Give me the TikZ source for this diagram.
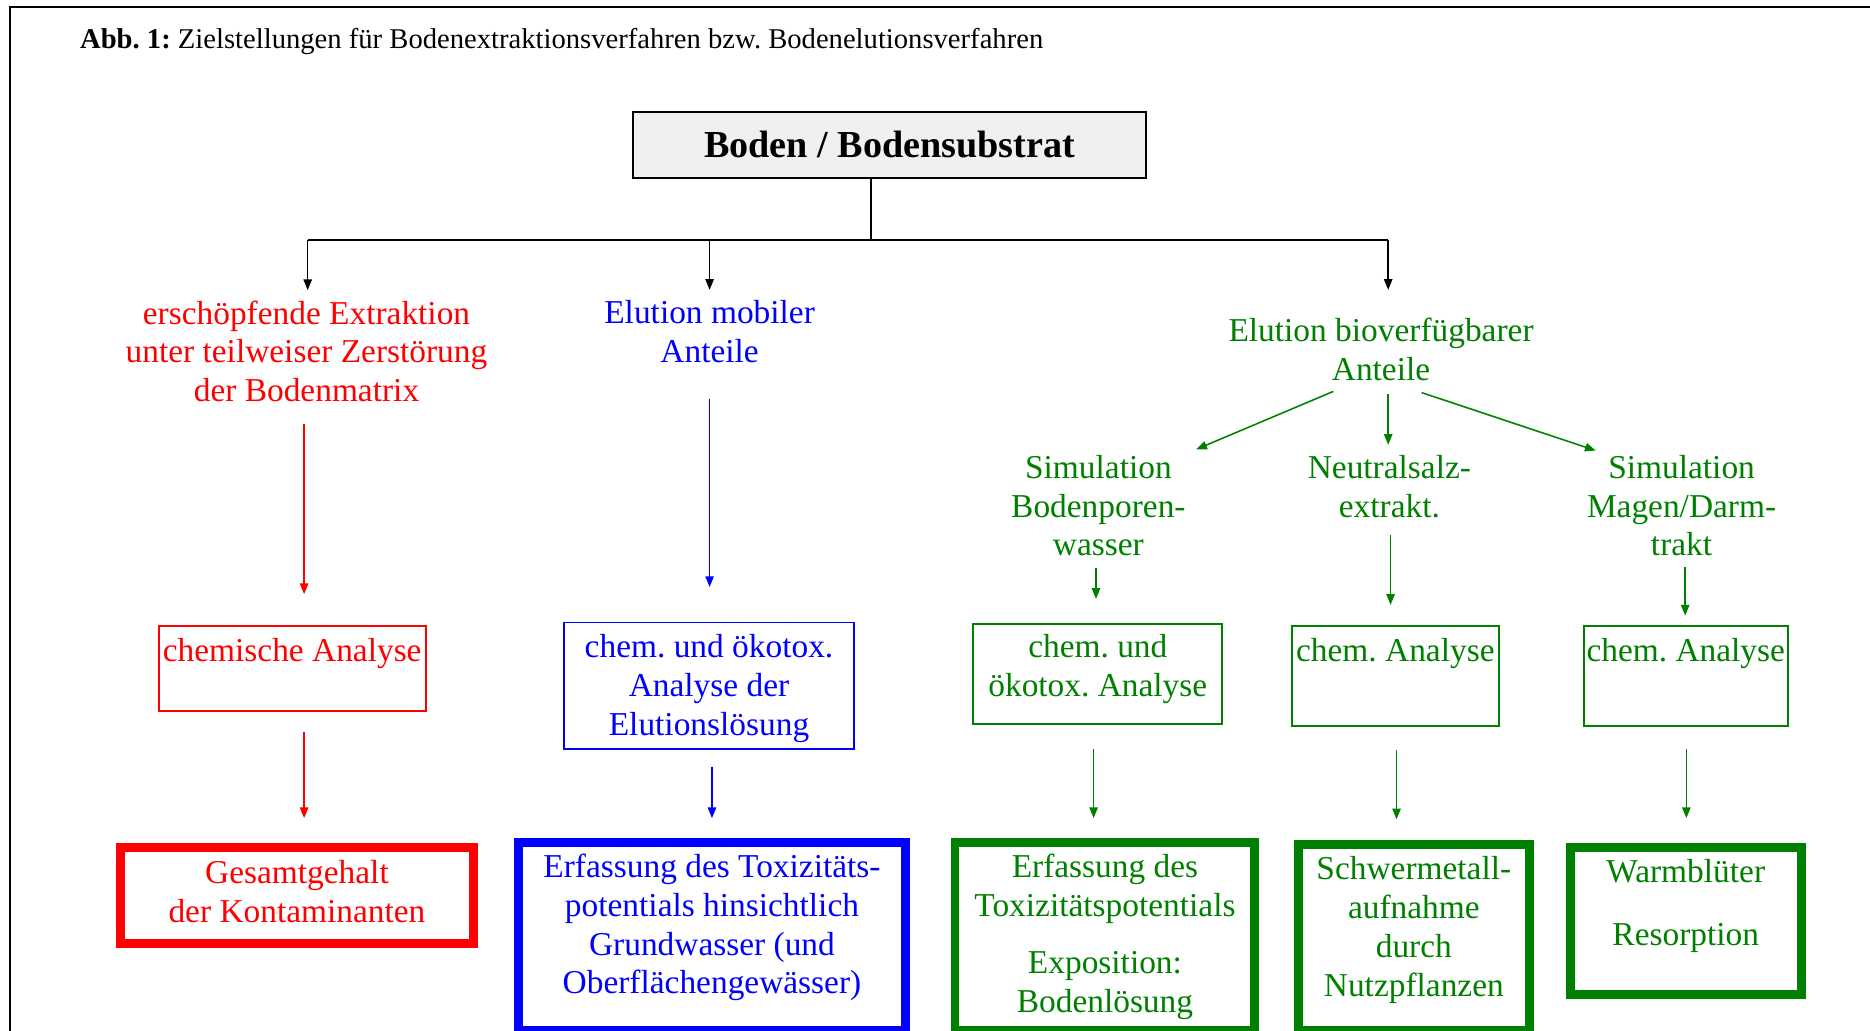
\documentclass[tikz,border=0pt]{standalone}
\usepackage{fontspec}
\setmainfont{Liberation Serif}
\usetikzlibrary{arrows.meta,calc}
\definecolor{cred}{HTML}{FF0000}
\definecolor{cblue}{HTML}{0000FF}
\definecolor{cgreen}{HTML}{008000}
\definecolor{cgray}{HTML}{F0F0F0}
\frenchspacing
\begin{document}
\frenchspacing
\begin{tikzpicture}[x=1pt,y=-1pt,
  txt/.style={font=\fontsize{28}{32.5}\selectfont\frenchspacing, align=center, inner sep=0pt},
  thinbox/.style={txt, draw, line width=1.6pt},
  thickbox/.style={txt, draw, line width=7.5pt},
  arr/.style={line width=1.3pt, -{Triangle[length=9pt,width=7pt]}},
  link/.style={line width=1.6pt}
]
\useasboundingbox (0,0) rectangle (1568,864);
% frame
\draw[line width=2pt] (8.5,870) -- (8.5,6) -- (1575,6);
% title
\node[anchor=base west, inner sep=0pt, font=\fontsize{24}{28}\selectfont\frenchspacing] (title) at (67,41)
  {\textbf{Abb. 1:} Zielstellungen für Bodenextraktionsverfahren bzw. Bodenelutionsverfahren};
% top box
\node[draw, line width=1.6pt, fill=cgray, minimum width=430pt, minimum height=55pt, inner sep=0pt,
  font=\fontsize{32}{36}\selectfont\bfseries] (top) at (746,121.5) {Boden / Bodensubstrat};
% branch coordinates
\coordinate (jn) at (730,201);
\coordinate (b1) at (258,201);
\coordinate (b2) at (595,201);
\coordinate (b3) at (1164,201);
% column x positions
\coordinate (xr) at (255,0);
\coordinate (xb1) at (595,0);
\coordinate (xb2) at (597,0);
\coordinate (xg1) at (919,0);
\coordinate (xg2) at (1166,0);
\coordinate (xg3) at (1413,0);
\coordinate (xh1) at (917,0);
\coordinate (xh2) at (1171,0);
\coordinate (xh3) at (1414,0);
% text nodes
\node[txt, text=cred, minimum height=102pt] (ext) at (257,294.5)
  {erschöpfende Extraktion\\unter teilweiser Zerstörung\\der Bodenmatrix};
\node[txt, text=cblue, minimum height=69.5pt] (mob) at (595,278) {Elution mobiler\\Anteile};
\node[txt, text=cgreen, minimum height=69.5pt] (bio) at (1158,293) {Elution bioverfügbarer\\Anteile};
\node[txt, text=cgreen, minimum height=102pt] (sim1) at (921,424) {Simulation\\Bodenporen-\\wasser};
\node[txt, text=cgreen, minimum height=69.5pt] (neu) at (1165,408) {Neutralsalz-\\extrakt.};
\node[txt, text=cgreen, minimum height=102pt] (sim2) at (1410,424) {Simulation\\Magen/Darm-\\trakt};
% analysis boxes
\node[thinbox, cred, minimum width=224pt, minimum height=71pt] (ca) at (245,560.5)
  {chemische Analyse\\[-1.5pt]\mbox{}};
\node[thinbox, cblue, minimum width=243pt, minimum height=106pt] (cb) at (594.5,575)
  {chem. und ökotox.\\Analyse der\\Elutionslösung\\[-31.5pt]\mbox{}};
\node[thinbox, cgreen, minimum width=209pt, minimum height=84pt] (gb1) at (920.5,565)
  {chem. und\\ökotox. Analyse\\[-19pt]\mbox{}};
\node[thinbox, cgreen, minimum width=174pt, minimum height=84pt] (gb2) at (1170,567)
  {chem. Analyse\\[11.5pt]\mbox{}};
\node[thinbox, cgreen, minimum width=171pt, minimum height=84pt] (gb3) at (1413.5,567)
  {chem. Analyse\\[11.5pt]\mbox{}};
% goal boxes
\node[thickbox, cred, minimum width=296.5pt, minimum height=80.5pt] (rg) at (249,751)
  {Gesamtgehalt\\der Kontaminanten\\[-25pt]\mbox{}};
\node[thickbox, cblue, minimum width=324.5pt, minimum height=157.25pt] (bb) at (597,785.4)
  {Erfassung des Toxizitäts-\\potentials hinsichtlich\\Grundwasser (und\\Oberflächengewässer)\\[-11.2pt]\mbox{}};
\node[thickbox, cgreen, minimum width=251.5pt, minimum height=157.25pt] (gg1) at (926.5,785.4)
  {Erfassung des\\Toxizitätspotentials\\[15.5pt]Exposition:\\Bodenlösung};
\node[thickbox, cgreen, minimum width=193.5pt, minimum height=156.25pt] (gg2) at (1185.5,785.9)
  {Schwermetall-\\aufnahme\\durch\\Nutzpflanzen\\[-14.2pt]\mbox{}};
\node[thickbox, cgreen, minimum width=193.5pt, minimum height=123.5pt] (gg3) at (1413.5,772.5)
  {Warmblüter\\[20.5pt]Resorption\\[-0.5pt]\mbox{}};
% black tree
\draw[link] (top.south -| jn) -- (jn);
\draw[link] (b1) -- (b3);
\draw[arr] (b1) -- (ext.north -| b1);
\draw[arr] (b2) -- (mob.north -| b2);
\draw[arr, shorten >=15pt] (b3) -- (bio.north -| b3);
% red column
\draw[arr, cred, shorten <=9.5pt, shorten >=26pt] (ext.south -| xr) -- (ca.north -| xr);
\draw[arr, cred, shorten <=17pt, shorten >=21pt] (ca.south -| xr) -- (rg.north -| xr);
% blue column
\draw[arr, cblue, shorten <=22pt, shorten >=29pt] (mob.south -| xb1) -- (cb.north -| xb1);
\draw[arr, cblue, shorten <=14pt, shorten >=17pt] (cb.south -| xb2) -- (bb.north -| xb2);
% green columns
\draw[arr, cgreen] ($(bio.south)+(-40,0.25)$) -- ($(sim1.north)+(82,4)$);
\draw[arr, cgreen, shorten <=2pt] (bio.south -| b3) -- (neu.north -| b3);
\draw[arr, cgreen] ($(bio.south)+(34,1.25)$) -- ($(sim2.north)+(-72,5)$);
\draw[arr, cgreen, shorten <=1pt, shorten >=20pt] (sim1.south -| xg1) -- (gb1.north -| xg1);
\draw[arr, cgreen, shorten <=6pt, shorten >=17pt] (neu.south -| xg2) -- (gb2.north -| xg2);
\draw[arr, cgreen, shorten >=8pt] (sim2.south -| xg3) -- (gb3.north -| xg3);
\draw[arr, cgreen, shorten <=20pt, shorten >=17pt] (gb1.south -| xh1) -- (gg1.north -| xh1);
\draw[arr, cgreen, shorten <=19pt, shorten >=17pt] (gb2.south -| xh2) -- (gg2.north -| xh2);
\draw[arr, cgreen, shorten <=18pt, shorten >=21pt] (gb3.south -| xh3) -- (gg3.north -| xh3);
\end{tikzpicture}
\end{document}
